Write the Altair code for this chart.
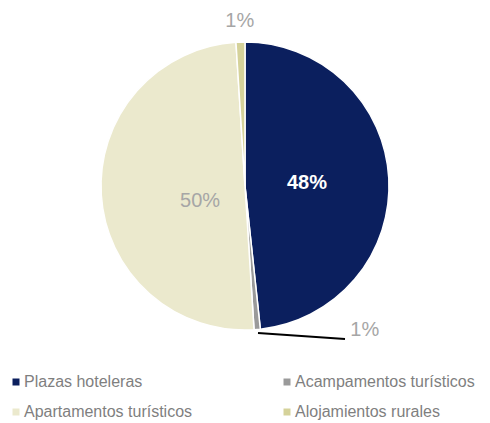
import altair as alt
import pandas as pd

categories = ["Plazas hoteleras", "Acampamentos turísticos", "Apartamentos turísticos", "Alojamientos rurales"]
values = [48.3, 0.7, 50.0, 1.0]
labels = ["48%", "1%", "50%", "1%"]
colors = ["#0b1f5e", "#9a9a9a", "#ebe9cd", "#d5d29a"]

df = pd.DataFrame({"cat": categories, "value": values, "label": labels, "idx": list(range(len(categories)))})
total = float(sum(values))

color_scale = alt.Scale(domain=categories, range=colors)

pie = alt.Chart(df).mark_arc(outerRadius=144, stroke="white", strokeWidth=1.5).encode(
    theta=alt.Theta("value:Q", stack=True),
    order=alt.Order("idx:Q"),
    color=alt.Color(
        "cat:N",
        scale=color_scale,
        sort=categories,
        legend=alt.Legend(
            title=None, orient="none", legendX=0, legendY=366, columns=2,
            direction="horizontal", padding=0,
            columnPadding=86, rowPadding=14, symbolType="square", symbolSize=49,
            symbolStrokeWidth=0, labelFontSize=16, labelColor="#7f7f7f",
            labelFont="Liberation Sans", labelOffset=0, labelLimit=300,
        ),
    ),
)

lab = alt.Chart(df).transform_window(
    cum="sum(value)", sort=[alt.SortField("idx")]
).transform_calculate(
    mid="datum.cum - datum.value / 2"
).encode(
    theta=alt.Theta("mid:Q", stack=None, scale=alt.Scale(domain=[0, total])),
    text="label:N",
)

font = "Liberation Sans"
t48 = lab.mark_text(radius=62, color="white", fontWeight="bold", fontSize=20, font=font).transform_filter(alt.datum.idx == 0)
t50 = lab.mark_text(radius=45, dy=12, color="#a6a6a6", fontSize=20, font=font).transform_filter(alt.datum.idx == 2)
t1top = lab.mark_text(radius=165, dx=0, color="#a6a6a6", fontSize=20, font=font).transform_filter(alt.datum.idx == 3)
t1bot = lab.mark_text(radius=150, dx=107, dy=-5, color="#a6a6a6", fontSize=20, font=font).transform_filter(alt.datum.idx == 1)

leader = alt.Chart(df).transform_filter(alt.datum.idx == 1).mark_rule(color="black", strokeWidth=2).encode(
    x=alt.value(250), x2=alt.value(337), y=alt.value(325), y2=alt.value(331))

chart = alt.layer(pie, t48, t50, t1top, t1bot, leader).properties(
    width=474, height=356, padding=0
).resolve_scale(theta="independent").configure_view(stroke=None)

chart.save("out.html", embed_options={"renderer": "svg", "actions": False})
